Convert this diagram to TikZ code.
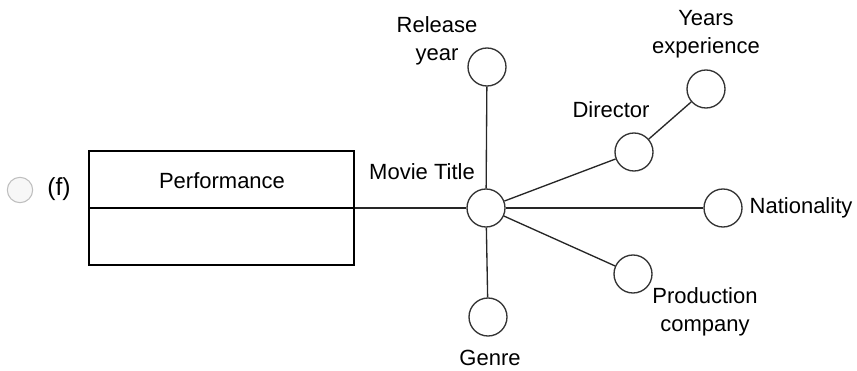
\documentclass[tikz,border=0pt]{standalone}
\usepackage{fontspec}
\setmainfont{Liberation Sans}
\usetikzlibrary{positioning}

\begin{document}
\begin{tikzpicture}[x=0.75pt,y=-0.75pt,line width=1pt,
	every node/.style={font=\fontsize{16.5}{21}\selectfont},
	attr node/.style={circle,draw=black!80,minimum size=28.5pt,inner sep=0pt},
	lbl/.style={align=center,inner sep=0pt}]

	\useasboundingbox (0,0) rectangle (857,371);

	% answer option
	\node[circle,draw=black!25,fill=black!3,line width=0.8pt,minimum size=19pt,inner sep=0pt] (radio) at (20,190) {};
	\node[lbl,font=\fontsize{18.5}{22}\selectfont] (opt) at (59,189) {(f)};

	% entity box
	\node[draw,minimum width=198.75pt,minimum height=85.5pt,inner sep=0pt] (perf) at (221.5,208) {};
	\draw (perf.west) -- (perf.east);
	\node[lbl] (perflbl) at (222,181) {Performance};

	% attributes
	\node[attr node] (movie) at (486,208) {};
	\node[attr node] (year) at (487,67) {};
	\node[attr node] (genre) at (488,317) {};
	\node[attr node] (dir) at (634,152) {};
	\node[attr node] (exp) at (706,89) {};
	\node[attr node] (nat) at (723,208) {};
	\node[attr node] (prod) at (633,274) {};

	\node[lbl] (movielbl) at (422,172) {Movie Title};
	\node[lbl] (yearlbl) at (437,41) {Release\\year};
	\node[lbl] (genrelbl) at (490,358) {Genre};
	\node[lbl] (dirlbl) at (611,110) {Director};
	\node[lbl] (explbl) at (706,34) {Years\\experience};
	\node[lbl,anchor=west] (natlbl) at (749,208) {Nationality};
	\node[lbl] (prodlbl) at (705,312) {Production\\company};

	\path[draw=black!85]
	(perf.east) edge (movie)
	(movie) edge (year)
	edge (genre)
	edge (dir)
	edge (nat)
	edge (prod)
	(dir) edge (exp);
\end{tikzpicture}
\end{document}
